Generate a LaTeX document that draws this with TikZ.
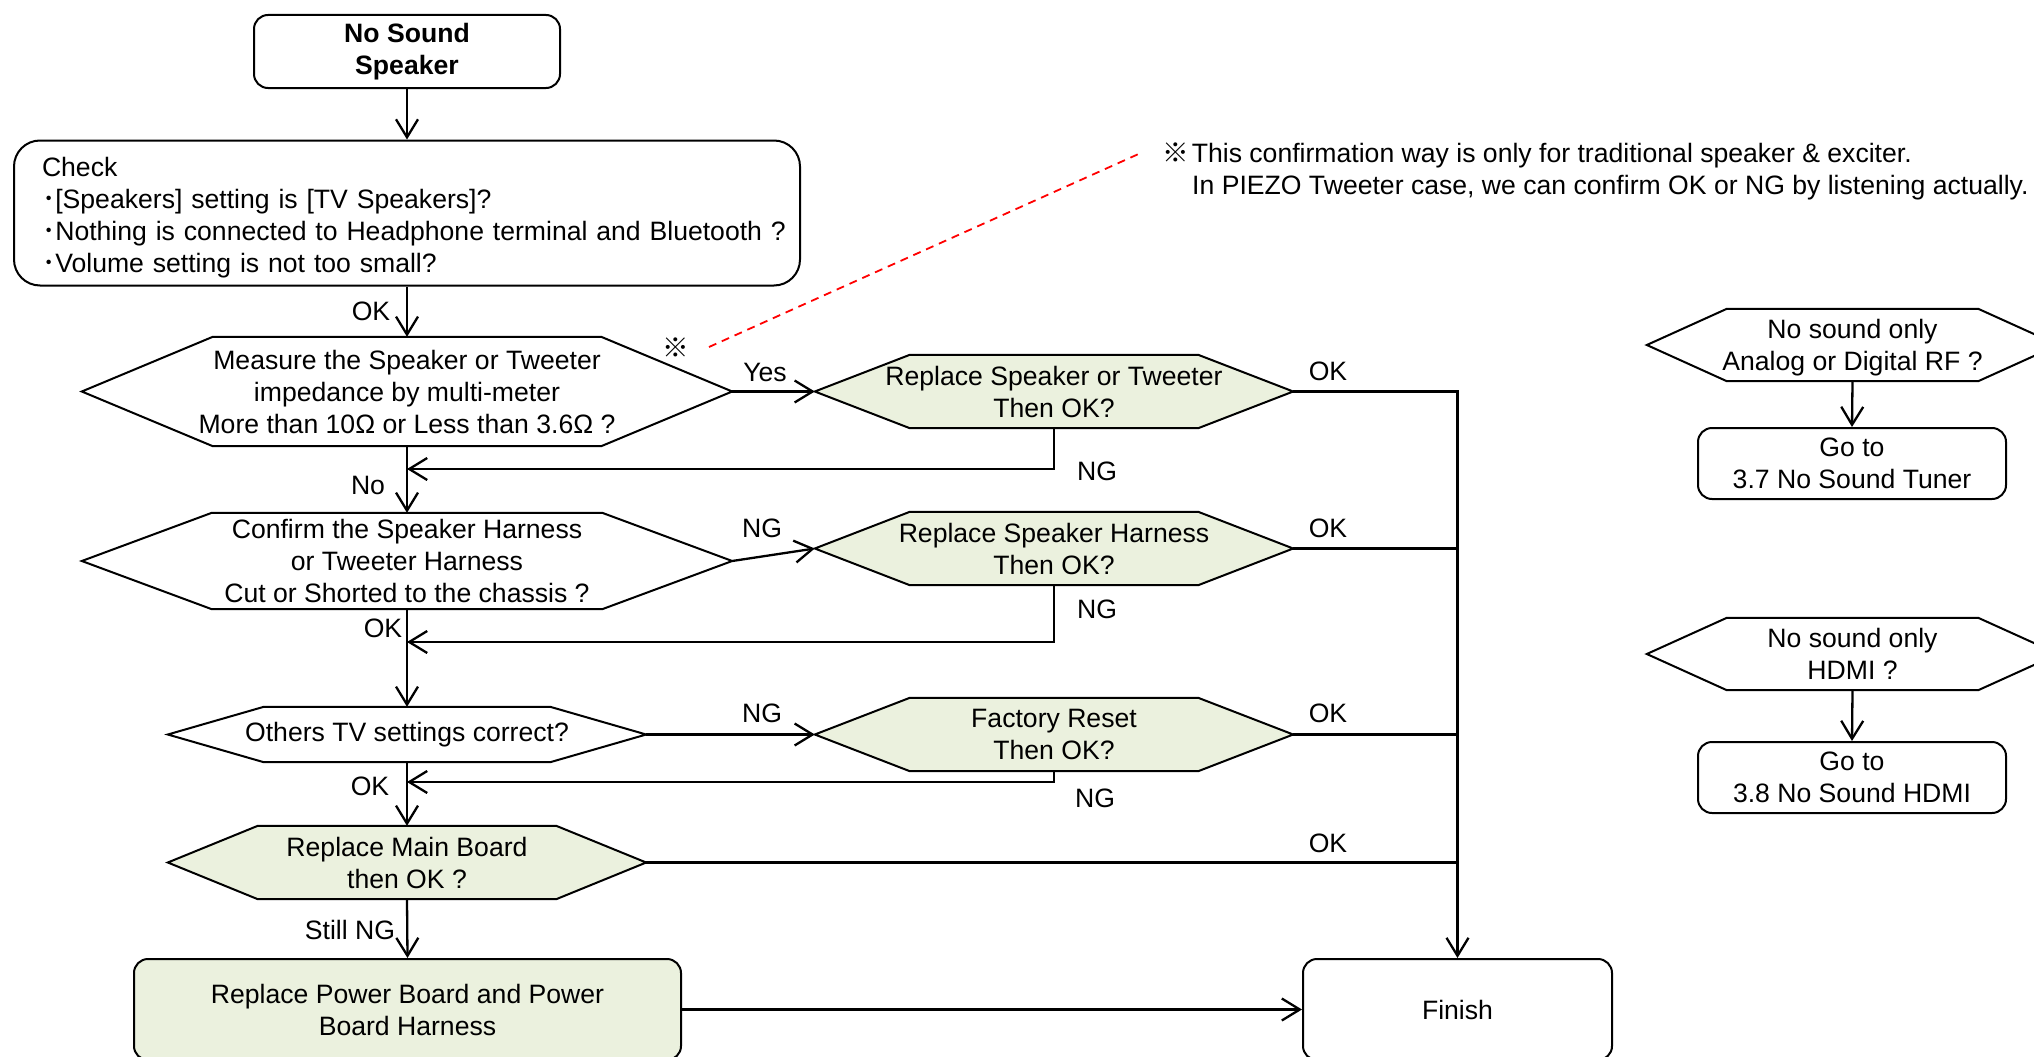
\documentclass[tikz,border=0pt]{standalone}
\usepackage{fontspec}
\setmainfont{Liberation Sans}
\newfontfamily\cjkfont{Noto Sans CJK JP}
\usetikzlibrary{arrows.meta,calc,backgrounds}

\definecolor{stepfill}{HTML}{EBF1DE}

\newcommand\basefont{\fontsize{26.6}{32}\selectfont}

% outline of a six-sided decision shape around a node: name, inset, fill
\newcommand\hexoutline[3]{%
  \path[draw, line width=2pt, fill=#3]
    (#1.west) -- ([xshift=#2]#1.north west) -- ([xshift=-#2]#1.north east)
    -- (#1.east) -- ([xshift=-#2]#1.south east) -- ([xshift=#2]#1.south west) -- cycle;}

\tikzset{
  every node/.style={font=\basefont},
  box/.style={draw, line width=2pt, rounded corners=14pt, inner sep=0pt, align=center},
  hexnode/.style={inner sep=0pt, align=center},
  link/.style={line width=2.3pt, -{Straight Barb[length=18pt,width=22pt]}},
  plain/.style={line width=2.3pt},
  lbl/.style={inner sep=0pt},
  note/.style={draw=red, line width=1.8pt, dash pattern=on 8pt off 6pt},
}

\begin{document}
\begin{tikzpicture}[x=1pt,y=-1pt]
\useasboundingbox (0,0) rectangle (2034,1057);

% ---- main column ----
\node[box, font=\basefont\bfseries, minimum width=306pt, minimum height=73pt] (start) at (407,51.5) {No Sound\\Speaker};

\node[box, rounded corners=26pt, minimum width=786pt, minimum height=145pt,
      text width=730pt, inner xsep=28pt, align=left] (check) at (407,213)
  {\mbox{\rule{0pt}{28pt}Check}\\
   \mbox{{\cjkfont ･}[Speakers] setting is [TV Speakers]?}\\
   \mbox{{\cjkfont ･}Nothing is connected to Headphone terminal and Bluetooth ?}\\
   \mbox{{\cjkfont ･}Volume setting is not too small?}};

\node[hexnode, minimum width=650pt, minimum height=109pt] (d1) at (407,391.5)
  {Measure the Speaker or Tweeter\\impedance by multi-meter\\More than 10Ω or Less than 3.6Ω ?};
\node[hexnode, minimum width=650pt, minimum height=96pt] (d2) at (407,561)
  {Confirm the Speaker Harness\\or Tweeter Harness\\Cut or Shorted to the chassis ?};
\node[hexnode, minimum width=478pt, minimum height=55pt] (d3) at (407,734.5)
  {Others TV settings correct?};
\node[hexnode, minimum width=478pt, minimum height=73pt] (hD) at (407,862.5)
  {Replace Main Board\\then OK ?};
\node[box, fill=stepfill, minimum width=547pt, minimum height=101pt] (power) at (407.5,1009.5)
  {Replace Power Board and Power\\Board Harness};

% ---- repair column ----
\node[hexnode, minimum width=478pt, minimum height=73pt] (hA) at (1054,391.5)
  {Replace Speaker or Tweeter\\Then OK?};
\node[hexnode, minimum width=478pt, minimum height=73pt] (hB) at (1054,548.5)
  {Replace Speaker Harness\\Then OK?};
\node[hexnode, minimum width=478pt, minimum height=73pt] (hC) at (1054,734.5)
  {Factory Reset\\Then OK?};

\node[box, minimum width=309pt, minimum height=101pt] (fin) at (1457.5,1009.5) {Finish};

% ---- side branches ----
\node[hexnode, minimum width=411pt, minimum height=72pt, text depth=0pt] (hE) at (1852.5,345)
  {No sound only\\Analog or Digital RF ?};
\node[box, minimum width=308pt, minimum height=71pt] (go1) at (1852,463.5)
  {Go to\\3.7 No Sound Tuner};
\node[hexnode, minimum width=411pt, minimum height=72pt] (hF) at (1852.5,654)
  {No sound only\\HDMI ?};
\node[box, minimum width=308pt, minimum height=71pt] (go2) at (1852,777.5)
  {Go to\\3.8 No Sound HDMI};

% ---- decision outlines behind the texts ----
\begin{scope}[on background layer]
  \hexoutline{d1}{131pt}{white}
  \hexoutline{d2}{130pt}{white}
  \hexoutline{d3}{96pt}{white}
  \hexoutline{hD}{90pt}{stepfill}
  \hexoutline{hA}{95pt}{stepfill}
  \hexoutline{hB}{95pt}{stepfill}
  \hexoutline{hC}{95pt}{stepfill}
  \hexoutline{hE}{80pt}{white}
  \hexoutline{hF}{80pt}{white}
\end{scope}

% ---- remark ----
\node[lbl] (mark) at (676,348) {\cjkfont ※};
\node[lbl, anchor=west, align=left] (remark) at (1162,171)
  {{\cjkfont ※}\hspace{3pt}This confirmation way is only for traditional speaker \& exciter.\\
   \hspace*{30pt}In PIEZO Tweeter case, we can confirm OK or NG by listening actually.};
\coordinate (rmA) at (709,347);
\coordinate (rmB) at (1143,152);
\draw[note] (rmA) -- (rmB);

% ---- junction points on the main column ----
\coordinate (j1) at (407,469);
\coordinate (j2) at (407,642);
\coordinate (j3) at (407,782);

% ---- connectors ----
\draw[link] (start) -- (check);
\draw[link] (check.south) -- (check.south |- d1.north);
\draw[link] (d1.south) -- (d2.north);
\draw[link] (d2.south) -- (d3.north);
\draw[link] (d3.south) -- (hD.north);
\draw[link] (hD.south) -- (power.north);

\draw[link] (d1.east) -- (hA.west);
\draw[link] (d2.east) -- (hB.west);
\draw[link] (d3.east) -- (hC.west);

\draw[link] (hA.south) |- (j1);
\draw[link] (hB.south) |- (j2);
\draw[link] (hC.south) |- (j3);

\draw[link] (hA.east) -| (fin.north);
\draw[plain] (hB.east) -- (hB.east -| fin.north);
\draw[plain] (hC.east) -- (hC.east -| fin.north);
\draw[plain] (hD.east) -- (hD.east -| fin.north);

\draw[link] (power.east) -- (power.east -| fin.west);

\draw[link] (hE.south) -- (go1.north);
\draw[link] (hF.south) -- (go2.north);

% ---- connector labels ----
\node[lbl] (l1) at (371,311) {OK};
\node[lbl] (l2) at (368,485) {No};
\node[lbl] (l3) at (383,628) {OK};
\node[lbl] (l4) at (370,786) {OK};
\node[lbl] (l5) at (350,930) {Still NG};
\node[lbl] (l6) at (765,372) {Yes};
\node[lbl] (l7) at (762,528) {NG};
\node[lbl] (l8) at (762,713) {NG};
\node[lbl] (l9) at (1097,471) {NG};
\node[lbl] (l10) at (1097,609) {NG};
\node[lbl] (l11) at (1095,798) {NG};
\node[lbl] (l12) at (1328,371) {OK};
\node[lbl] (l13) at (1328,528) {OK};
\node[lbl] (l14) at (1328,713) {OK};
\node[lbl] (l15) at (1328,843) {OK};
\end{tikzpicture}
\end{document}
